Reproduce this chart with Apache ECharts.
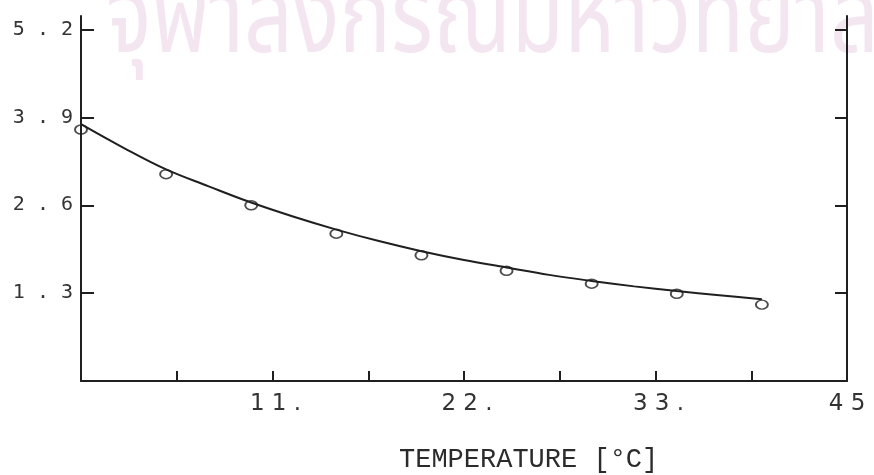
<!DOCTYPE html>
<html><head><meta charset="utf-8">
<script src="https://cdn.jsdelivr.net/npm/echarts@6/dist/echarts.min.js"></script>
<style>html,body{margin:0;padding:0;background:#fff}#c{width:874px;height:475px}</style>
</head><body><div id="c"></div>
<script>
// measured points (open circles)
const temperature = [0, 5, 10, 15, 20, 25, 30, 35, 40];
const measured = [3.72, 3.06, 2.60, 2.18, 1.86, 1.63, 1.44, 1.29, 1.13];
// fitted curve
const curveX = [0, 2.5, 5, 7.5, 10, 12.5, 15, 17.5, 20, 22.5, 25, 27.5, 30, 32.5, 35, 37.5, 40];
const curveY = [3.80, 3.45, 3.13, 2.88, 2.64, 2.43, 2.24, 2.07, 1.92, 1.79, 1.68, 1.57, 1.48, 1.40, 1.33, 1.27, 1.21];
// axis ticks & labels
const xTicks = [0, 5.625, 11.25, 16.875, 22.5, 28.125, 33.75, 39.375, 45];
const xTickLabels = ['', '', '11.', '', '22.', '', '33.', '', '45'];
const yTicks = [0, 1.3, 2.6, 3.9, 5.2];
const yTickLabels = ['', '1.3', '2.6', '3.9', '5.2'];
const xTitle = 'TEMPERATURE [°C]';
const watermark = 'จุฬาลงกรณ์มหาวิทยาลัย';

const ink = '#1f1f1f';
const spaced = s => s.split('').join(' ');

const chart = echarts.init(document.getElementById('c'), null, {renderer: 'canvas'});
chart.setOption({
  animation: false,
  backgroundColor: '#ffffff',
  graphic: [{
    type: 'text', left: 106, top: -23, z: -100, silent: true, scaleY: 1.25,
    style: {text: watermark, fontSize: 86, fontFamily: '"Noto Sans Thai", "Noto Sans", sans-serif', fill: '#f4e6f0'}
  }],
  title: {
    text: xTitle, left: 394, top: 441,
    textStyle: {fontFamily: '"Liberation Mono", monospace', fontSize: 27, fontWeight: 'normal', color: '#2b2b2b'}
  },
  grid: {left: 81, right: 27, top: 16, bottom: 94, containLabel: false},
  xAxis: {
    type: 'value', min: 0, max: 45, interval: 5.625,
    axisLine: {show: true, lineStyle: {color: ink, width: 2}},
    axisTick: {show: true, inside: true, length: 10, lineStyle: {color: ink, width: 2}, customValues: xTicks},
    splitLine: {show: false},
    axisLabel: {
      customValues: xTicks,
      margin: 12,
      formatter: function (v) {
        const i = xTicks.findIndex(t => Math.abs(t - v) < 1e-6);
        const s = i >= 0 ? xTickLabels[i] : '';
        if (!s) return '';
        return s.endsWith('.') ? '{d|' + spaced(s) + '}' : '{n|' + spaced(s) + '}';
      },
      rich: {
        d: {fontFamily: '"DejaVu Sans", sans-serif', fontSize: 23, color: '#333', padding: [0, 0, 0, 6]},
        n: {fontFamily: '"DejaVu Sans", sans-serif', fontSize: 23, color: '#333'}
      }
    }
  },
  yAxis: [{
    type: 'value', min: 0, max: 5.4, position: 'left',
    axisLine: {show: true, lineStyle: {color: ink, width: 2}},
    axisTick: {show: true, inside: true, length: 13, lineStyle: {color: ink, width: 2}, customValues: yTicks},
    splitLine: {show: false},
    axisLabel: {
      customValues: yTicks, margin: 8,
      fontFamily: '"DejaVu Sans Mono", monospace', fontSize: 20, color: '#333',
      formatter: function (v) {
        const i = yTicks.findIndex(t => Math.abs(t - v) < 1e-6);
        return i >= 0 ? spaced(yTickLabels[i]) : '';
      }
    }
  }, {
    type: 'value', min: 0, max: 5.4, position: 'right',
    axisLine: {show: true, onZero: false, lineStyle: {color: ink, width: 2}},
    axisTick: {show: true, inside: true, length: 12, lineStyle: {color: ink, width: 2}, customValues: yTicks},
    axisLabel: {show: false},
    splitLine: {show: false}
  }],
  series: [{
    type: 'line', yAxisIndex: 0,
    data: curveX.map((x, i) => [x, curveY[i]]),
    smooth: 0.4, showSymbol: false,
    lineStyle: {color: ink, width: 2}, z: 2
  }, {
    type: 'scatter', yAxisIndex: 0,
    data: temperature.map((x, i) => [x, measured[i]]),
    symbol: 'circle', symbolSize: [12, 9],
    itemStyle: {color: 'rgba(255,255,255,0)', borderColor: ink, borderWidth: 1.7}, z: 3
  }]
});
</script></body></html>
